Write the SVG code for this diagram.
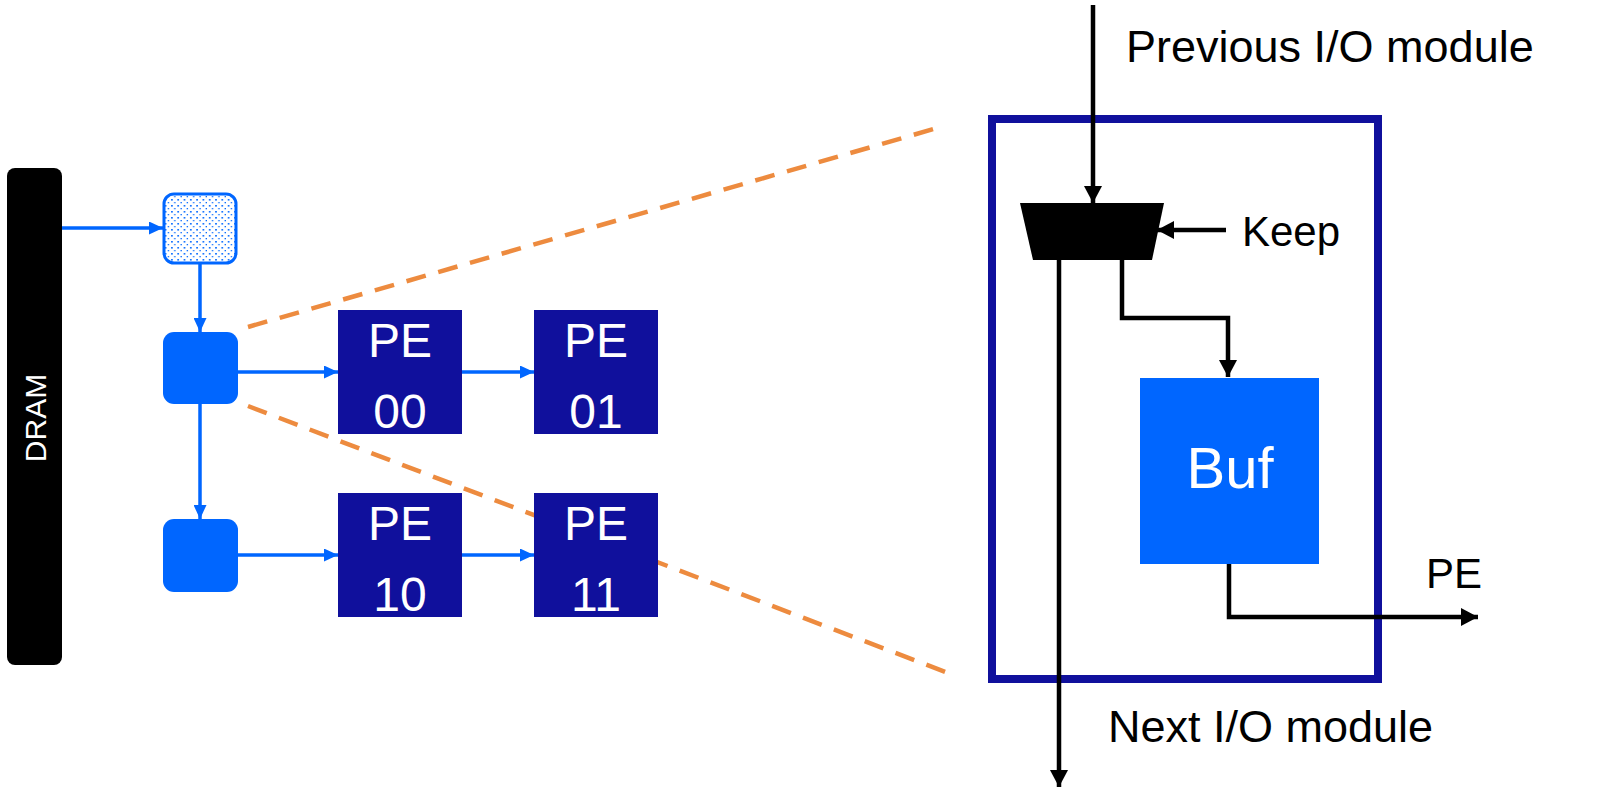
<svg xmlns="http://www.w3.org/2000/svg" width="1609" height="806" viewBox="0 0 1609 806">
<style>
.lbl{font-family:"Liberation Sans",Arial,sans-serif;fill:#000}
.wt{font-family:"Liberation Sans",Arial,sans-serif;fill:#fff;text-anchor:middle}
.pe{fill:#10109C}
.bl{stroke:#0066FF;stroke-width:3.5;fill:none}
.bk{stroke:#000;stroke-width:4.5;fill:none}
.dash{stroke:#ED8B3F;stroke-width:4.5;stroke-dasharray:20 13;fill:none}
</style>
<defs>
<pattern id="dots" width="6.3" height="6" patternUnits="userSpaceOnUse">
<rect x="1" y="1" width="1.6" height="1.6" fill="#0066FF"/>
<rect x="4.1" y="4" width="1.3" height="1.3" fill="#0066FF"/>
</pattern>
<marker id="ab" markerWidth="14" markerHeight="13" refX="14" refY="6.5" orient="auto" markerUnits="userSpaceOnUse">
<path d="M0,0 L14,6.5 L0,13 Z" fill="#0066FF"/>
</marker>
<marker id="ak" markerWidth="17" markerHeight="18" refX="17" refY="9" orient="auto" markerUnits="userSpaceOnUse">
<path d="M0,0 L17,9 L0,18 Z" fill="#000"/>
</marker>
</defs>
<rect width="1609" height="806" fill="#fff"/>

<g id="zoom-lines">
<line class="dash" x1="248" y1="327" x2="944" y2="126"/>
<line class="dash" x1="248" y1="406" x2="956" y2="676"/>
</g>

<g id="dram">
<rect x="7" y="168" width="55" height="497" rx="8" fill="#000"/>
<text class="wt" transform="translate(46,418) rotate(-90)" font-size="30">DRAM</text>
</g>
<g id="io-top">
<rect x="164" y="194" width="72" height="69" rx="10" fill="#fff"/>
<rect x="164" y="194" width="72" height="69" rx="10" fill="url(#dots)" stroke="#0066FF" stroke-width="3"/>
</g>
<g id="io-0"><rect x="163" y="332" width="75" height="72" rx="11" fill="#0066FF"/></g>
<g id="io-1"><rect x="163" y="519" width="75" height="73" rx="11" fill="#0066FF"/></g>

<g id="pe00"><rect class="pe" x="338" y="310" width="124" height="124"/>
<text class="wt" x="400" y="357" font-size="48">PE</text><text class="wt" x="400" y="428" font-size="48">00</text></g>
<g id="pe01"><rect class="pe" x="534" y="310" width="124" height="124"/>
<text class="wt" x="596" y="357" font-size="48">PE</text><text class="wt" x="596" y="428" font-size="48">01</text></g>
<g id="pe10"><rect class="pe" x="338" y="493" width="124" height="124"/>
<text class="wt" x="400" y="540" font-size="48">PE</text><text class="wt" x="400" y="611" font-size="48">10</text></g>
<g id="pe11"><rect class="pe" x="534" y="493" width="124" height="124"/>
<text class="wt" x="596" y="540" font-size="48">PE</text><text class="wt" x="596" y="611" font-size="48">11</text></g>

<g id="connectors-left">
<line class="bl" x1="62" y1="228" x2="163" y2="228" marker-end="url(#ab)"/>
<line class="bl" x1="200" y1="264" x2="200" y2="332" marker-end="url(#ab)"/>
<line class="bl" x1="200" y1="404" x2="200" y2="519" marker-end="url(#ab)"/>
<line class="bl" x1="238" y1="372" x2="338" y2="372" marker-end="url(#ab)"/>
<line class="bl" x1="462" y1="372" x2="534" y2="372" marker-end="url(#ab)"/>
<line class="bl" x1="238" y1="555" x2="338" y2="555" marker-end="url(#ab)"/>
<line class="bl" x1="462" y1="555" x2="534" y2="555" marker-end="url(#ab)"/>
</g>

<g id="io-module">
<rect x="992" y="119" width="386" height="560" fill="none" stroke="#10109C" stroke-width="8"/>
</g>
<g id="mux"><path d="M1020,203 L1164,203 L1152,260 L1033,260 Z" fill="#000"/></g>
<g id="buf"><rect x="1140" y="378" width="179" height="186" fill="#0066FF"/>
<text class="wt" x="1230" y="488" font-size="58">Buf</text></g>

<g id="connectors-right">
<line class="bk" x1="1093" y1="5" x2="1093" y2="203" marker-end="url(#ak)"/>
<line class="bk" x1="1226" y1="230" x2="1157" y2="230" marker-end="url(#ak)"/>
<polyline class="bk" points="1122,260 1122,318 1228,318 1228,377" marker-end="url(#ak)"/>
<line class="bk" x1="1059" y1="260" x2="1059" y2="787" marker-end="url(#ak)"/>
<polyline class="bk" points="1229,564 1229,617 1478,617" marker-end="url(#ak)"/>
</g>

<g id="labels">
<text class="lbl" x="1126" y="62" font-size="45">Previous I/O module</text>
<text class="lbl" x="1242" y="246" font-size="42">Keep</text>
<text class="lbl" x="1426" y="588" font-size="42">PE</text>
<text class="lbl" x="1108" y="742" font-size="45">Next I/O module</text>
</g>
</svg>
